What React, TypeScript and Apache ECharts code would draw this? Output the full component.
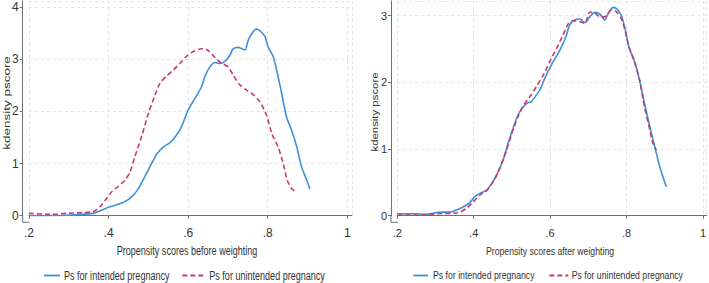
import React, { useEffect, useRef } from "react";
import * as echarts from "echarts";

// Left panel: before weighting
const beforeIntendedX = [0.2, 0.295, 0.362, 0.378, 0.403, 0.42, 0.441, 0.458, 0.475, 0.491, 0.508, 0.521, 0.538, 0.554, 0.571, 0.584, 0.6, 0.617, 0.634, 0.642, 0.655, 0.667, 0.68, 0.692, 0.705, 0.713, 0.726, 0.734, 0.743, 0.751, 0.764, 0.772, 0.78, 0.793, 0.801, 0.814, 0.826, 0.835, 0.847, 0.86, 0.873, 0.885, 0.898, 0.906];
const beforeIntendedY = [0.0, 0.01, 0.045, 0.09, 0.17, 0.21, 0.27, 0.36, 0.52, 0.75, 1.0, 1.18, 1.32, 1.4, 1.55, 1.72, 2.03, 2.25, 2.48, 2.67, 2.86, 2.94, 2.92, 2.96, 3.08, 3.2, 3.23, 3.21, 3.18, 3.37, 3.54, 3.58, 3.55, 3.44, 3.24, 3.05, 2.67, 2.35, 1.9, 1.64, 1.32, 0.94, 0.68, 0.51];
const beforeUnintendedX = [0.2, 0.253, 0.295, 0.337, 0.362, 0.378, 0.395, 0.408, 0.424, 0.441, 0.454, 0.466, 0.483, 0.5, 0.517, 0.529, 0.546, 0.563, 0.579, 0.596, 0.613, 0.63, 0.638, 0.65, 0.667, 0.684, 0.7, 0.713, 0.73, 0.747, 0.764, 0.78, 0.797, 0.81, 0.826, 0.839, 0.849, 0.86, 0.873];
const beforeUnintendedY = [0.045, 0.025, 0.045, 0.06, 0.08, 0.17, 0.33, 0.46, 0.56, 0.68, 0.84, 1.13, 1.52, 1.96, 2.32, 2.54, 2.68, 2.8, 2.92, 3.06, 3.15, 3.2, 3.21, 3.17, 3.04, 2.92, 2.86, 2.7, 2.51, 2.41, 2.32, 2.19, 1.93, 1.58, 1.32, 1.0, 0.68, 0.52, 0.44];

// Right panel: after weighting
const afterIntendedX = [0.2, 0.246, 0.272, 0.307, 0.342, 0.359, 0.377, 0.39, 0.403, 0.416, 0.434, 0.447, 0.46, 0.477, 0.49, 0.503, 0.516, 0.529, 0.542, 0.551, 0.564, 0.573, 0.586, 0.603, 0.621, 0.634, 0.643, 0.651, 0.664, 0.678, 0.691, 0.704, 0.717, 0.73, 0.743, 0.752, 0.765, 0.773, 0.786, 0.795, 0.806, 0.821, 0.834, 0.847, 0.861, 0.874, 0.887, 0.904];
const afterIntendedY = [0.03, 0.03, 0.02, 0.05, 0.06, 0.095, 0.145, 0.2, 0.285, 0.335, 0.385, 0.485, 0.61, 0.835, 1.085, 1.31, 1.51, 1.625, 1.695, 1.71, 1.81, 1.885, 2.06, 2.26, 2.435, 2.585, 2.71, 2.86, 2.935, 2.95, 2.895, 2.985, 3.05, 3.025, 2.935, 3.035, 3.125, 3.11, 3.01, 2.835, 2.535, 2.31, 2.035, 1.685, 1.335, 1.035, 0.735, 0.435];
const afterUnintendedX = [0.2, 0.264, 0.307, 0.359, 0.381, 0.399, 0.416, 0.434, 0.451, 0.468, 0.486, 0.503, 0.516, 0.529, 0.547, 0.564, 0.582, 0.599, 0.617, 0.634, 0.647, 0.66, 0.678, 0.691, 0.704, 0.717, 0.734, 0.747, 0.76, 0.773, 0.786, 0.797, 0.806, 0.821, 0.834, 0.847, 0.861, 0.869, 0.878];
const afterUnintendedY = [0.01, 0.01, 0.03, 0.045, 0.11, 0.21, 0.31, 0.375, 0.51, 0.71, 0.985, 1.285, 1.485, 1.645, 1.785, 1.935, 2.11, 2.31, 2.51, 2.71, 2.875, 2.925, 2.91, 2.885, 3.055, 3.035, 2.975, 2.995, 3.085, 3.06, 2.96, 2.76, 2.535, 2.31, 2.035, 1.635, 1.285, 1.085, 0.985];

const seriesNames = ["Ps for intended pregnancy", "Ps for unintended pregnancy"];
const xTitles = ["Propensity scores before weighting", "Propensity scores after weighting"];
const yTitle = "kdensity pscore";

const BLUE = "#3f90d8";
const RED = "#c8396e";
const TXT = "#333";
const AXIS = "#6e6e6e";
const FONT = "'Liberation Sans', Arial, sans-serif";

const zip = (xs: number[], ys: number[]) => xs.map((x, i) => [x, ys[i]]);

const xFmt = (v: number) => {
  const r = Math.round(v * 10) / 10;
  return r === 1 ? "1" : String(r).replace(/^0/, "");
};

export default function App() {
  const ref = useRef<HTMLDivElement>(null);
  useEffect(() => {
    if (!ref.current) return;
    const chart = echarts.init(ref.current, undefined, { renderer: "svg" });
    const axisLine = { show: true, lineStyle: { color: AXIS, width: 1 } };
    const axisTick = { show: true, length: 3, lineStyle: { color: AXIS } };
    const splitLine = { show: true, lineStyle: { color: "#e4e4e4", type: [3, 3] as any, width: 1 } };
    const mkX = (gi: number, max: number, fs: number) => ({
      type: "value",
      gridIndex: gi,
      min: 0.2,
      max,
      interval: 0.2,
      offset: 6.6,
      axisLine,
      axisTick,
      splitLine,
      axisLabel: { color: TXT, fontFamily: FONT, fontSize: fs, margin: 5, formatter: xFmt, showMaxLabel: false },
    });
    const mkY = (gi: number, max: number, fs: number) => ({
      type: "value",
      gridIndex: gi,
      min: 0,
      max,
      interval: 1,
      offset: 6.3,
      axisLine,
      axisTick,
      splitLine,
      axisLabel: { color: TXT, fontFamily: FONT, fontSize: fs, margin: 4, showMaxLabel: false },
    });
    const mkS = (name: string, gi: number, data: number[][], color: string, dashed: boolean) => ({
      type: "line",
      name,
      xAxisIndex: gi,
      yAxisIndex: gi,
      data,
      showSymbol: false,
      symbol: "none",
      smooth: 0.25,
      lineStyle: { color, width: 1.6, type: dashed ? [5, 3] : "solid" },
      itemStyle: { color },
    });
    const hText = (text: string, x: number, y: number, fs: number, sx: number, align: string) => ({
      type: "text",
      x,
      y,
      scaleX: sx,
      silent: true,
      style: { text, fill: TXT, font: `${fs}px ${FONT}`, textAlign: align, textVerticalAlign: "middle" },
    });
    const vText = (text: string, x: number, y: number, fs: number, sy: number) => ({
      type: "text",
      x,
      y,
      rotation: Math.PI / 2,
      scaleY: sy,
      silent: true,
      style: { text, fill: TXT, font: `${fs}px ${FONT}`, textAlign: "center", textVerticalAlign: "middle" },
    });
    const seg = (x1: number, y1: number, x2: number, y2: number, stroke: string, w = 1, dash?: number[]) => ({
      type: "line",
      silent: true,
      shape: { x1, y1, x2, y2 },
      style: { stroke, lineWidth: w, lineDash: dash },
    });
    chart.setOption({
      animation: false,
      backgroundColor: "#fff",
      grid: [
        { left: 29, top: 1, width: 323, height: 214.7 },
        { left: 397.3, top: 1, width: 309.7, height: 214.7 },
      ],
      xAxis: [mkX(0, 1.0118, 12), mkX(1, 1.0097, 11)],
      yAxis: [mkY(0, 4.12, 12), mkY(1, 3.22, 11)],
      series: [
        mkS(seriesNames[0], 0, zip(beforeIntendedX, beforeIntendedY), BLUE, false),
        mkS(seriesNames[1], 0, zip(beforeUnintendedX, beforeUnintendedY), RED, true),
        mkS(seriesNames[0], 1, zip(afterIntendedX, afterIntendedY), BLUE, false),
        mkS(seriesNames[1], 1, zip(afterUnintendedX, afterUnintendedY), RED, true),
      ],
      graphic: [
        // axis corner extensions
        seg(22.7, 215, 22.7, 222.3, AXIS),
        seg(22.7, 222.3, 29.5, 222.3, AXIS),
        seg(391, 215, 391, 222.3, AXIS),
        seg(391, 222.3, 397.8, 222.3, AXIS),
        // axis titles
        hText(xTitles[0], 187, 250.7, 13.5, 0.67, "center"),
        hText(xTitles[1], 550, 251, 11.4, 0.765, "center"),
        vText(yTitle, 6.5, 103, 13.5, 0.67),
        vText(yTitle, 375, 112, 11.4, 0.765),
        // left legend
        seg(44, 275.5, 60, 275.5, BLUE, 1.8),
        hText(seriesNames[0], 64, 275, 13.5, 0.67, "left"),
        seg(182.3, 275.5, 205, 275.5, RED, 1.8, [5, 3]),
        hText(seriesNames[1], 209.3, 275, 13.5, 0.67, "left"),
        // right legend
        seg(413.3, 275.5, 428, 275.5, BLUE, 1.8),
        hText(seriesNames[0], 433, 275, 11.4, 0.765, "left"),
        seg(549.3, 275.5, 568.3, 275.5, RED, 1.8, [5, 3]),
        hText(seriesNames[1], 571.7, 275, 11.4, 0.765, "left"),
      ],
    });
    return () => chart.dispose();
  }, []);
  return (
    <div
      ref={ref}
      style={{ position: "fixed", left: 0, top: 0, width: 709, height: 283, background: "#fff" }}
    />
  );
}
